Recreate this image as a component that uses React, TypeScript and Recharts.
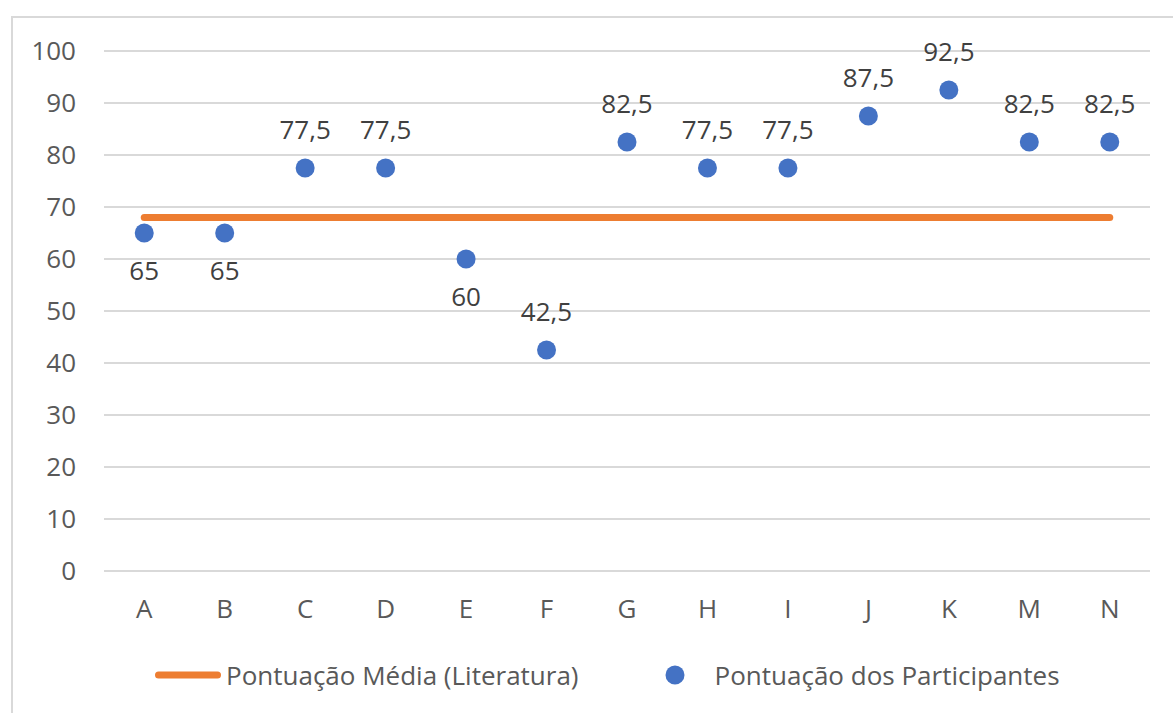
import { ComposedChart, Line, XAxis, YAxis, CartesianGrid, LabelList } from 'recharts';

const participantes = ['A', 'B', 'C', 'D', 'E', 'F', 'G', 'H', 'I', 'J', 'K', 'M', 'N'];
const pontuacao = [65, 65, 77.5, 77.5, 60, 42.5, 82.5, 77.5, 77.5, 87.5, 92.5, 82.5, 82.5];
const mediaLiteratura = [68, 68, 68, 68, 68, 68, 68, 68, 68, 68, 68, 68, 68];
const yTicks = [0, 10, 20, 30, 40, 50, 60, 70, 80, 90, 100];
// labels Excel put under the marker
const labelsBelow = ['A', 'B', 'E'];

const data = participantes.map((p, i) => ({
  name: p,
  media: mediaLiteratura[i],
  pontuacao: pontuacao[i],
}));

const FONT = '"Open Sans", "Noto Sans", sans-serif';
const ORANGE = '#ED7D31';
const BLUE = '#4472C4';

const renderLabel = (props: any) => {
  const { x, y, value, index } = props;
  const below = labelsBelow.includes(participantes[index]);
  return (
    <text
      x={x}
      y={below ? y + 37 : y - 39}
      textAnchor="middle"
      dominantBaseline="central"
      fill="#404040"
      fontSize={26}
      fontFamily={FONT}
    >
      {String(value).replace('.', ',')}
    </text>
  );
};

export default function App() {
  return (
    <div
      style={{
        position: 'absolute',
        left: 0,
        top: 0,
        width: 1173,
        height: 713,
        overflow: 'hidden',
        background: '#fff',
        fontFamily: FONT,
      }}
    >
      <div
        style={{
          position: 'absolute',
          left: 11,
          top: 16,
          width: 1300,
          height: 900,
          border: '2px solid #d9d9d9',
        }}
      />
      <div style={{ position: 'absolute', left: 0, top: 0 }}>
        <ComposedChart width={1173} height={713} data={data} margin={{ top: 51, right: 23, bottom: 112, left: 44 }}>
          <CartesianGrid vertical={false} stroke="#d9d9d9" strokeWidth={2} />
          <XAxis
            dataKey="name"
            scale="band"
            axisLine={false}
            tickLine={false}
            tickMargin={23}
            tick={{ fill: '#595959', fontSize: 26, fontFamily: FONT }}
            interval={0}
          />
          <YAxis
            width={60}
            domain={[0, 100]}
            ticks={yTicks}
            axisLine={false}
            tickLine={false}
            tickMargin={22}
            tick={{ fill: '#595959', fontSize: 26, fontFamily: FONT }}
          />
          <Line
            dataKey="media"
            stroke={ORANGE}
            strokeWidth={7}
            strokeLinecap="round"
            dot={false}
            activeDot={false}
            isAnimationActive={false}
          />
          <Line
            dataKey="pontuacao"
            stroke="none"
            dot={{ r: 9.5, fill: BLUE, stroke: 'none' }}
            activeDot={false}
            isAnimationActive={false}
          >
            <LabelList dataKey="pontuacao" content={renderLabel} />
          </Line>
        </ComposedChart>
      </div>
      <div
        style={{
          position: 'absolute',
          left: 155,
          top: 657,
          height: 36,
          display: 'flex',
          alignItems: 'center',
          color: '#595959',
          fontSize: 26,
        }}
      >
        <svg width={66} height={10} style={{ marginRight: 5 }}>
          <line x1={3.5} y1={5} x2={62.5} y2={5} stroke={ORANGE} strokeWidth={7} strokeLinecap="round" />
        </svg>
        <span>Pontuação Média (Literatura)</span>
        <svg width={22} height={22} style={{ marginLeft: 85, marginRight: 29 }}>
          <circle cx={11} cy={11} r={9.5} fill={BLUE} />
        </svg>
        <span>Pontuação dos Participantes</span>
      </div>
    </div>
  );
}
